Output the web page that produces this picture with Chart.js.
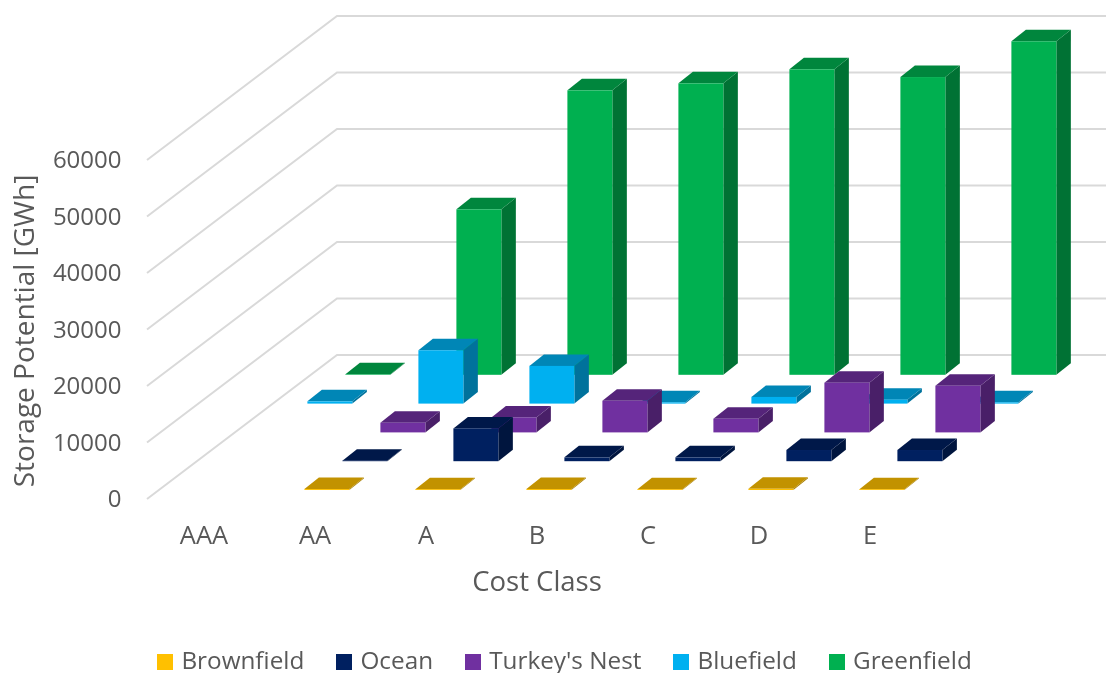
<!DOCTYPE html>
<html>
<head>
<meta charset="utf-8">
<style>
  html, body { margin: 0; padding: 0; background: #fff; overflow: hidden; }
  #wrap { position: relative; width: 1106px; height: 673px; }
</style>
<script src="https://cdn.jsdelivr.net/npm/chart.js@4/dist/chart.umd.min.js"></script>
</head>
<body>
<div id="wrap"><canvas id="storageChart"></canvas></div>
<script>
const costClasses = ['AAA', 'AA', 'A', 'B', 'C', 'D', 'E'];

// storage potential in GWh per cost class
const brownfield = [null, 170, 150, 170, 150, 210, 150];
const ocean      = [null, 100, 5800, 680, 680, 1980, 1980];
const turkeysNest = [null, 1710, 2650, 5600, 2420, 8790, 8260];
const bluefield  = [400, 9440, 6670, 230, 1180, 700, 230];
const greenfield = [100, 29290, 50350, 51590, 54070, 52700, 59030];

const TEXT_COLOR = '#595959';
const WALL_COLOR = '#d9d9d9';
const FONT_NAME  = '"Open Sans", sans-serif';

// floor depth in pixels, from the front edge to the back wall
const DEPTH_X = 190;
const DEPTH_Y = 144;
const WALL_SHIFT_Y = -1.5;
const ROW_STEP = 0.2;
const ROW_START = 0.0625;
const BAR_DEPTH_X = 14.5;
const BAR_DEPTH_Y = 11.5;

const AREA_TOP = 161.5;
const AREA_BOTTOM = 500.5;

function shade(hex, factor) {
    const n = parseInt(hex.slice(1), 16);
    const c = [n >> 16, (n >> 8) & 255, n & 255].map(v => Math.round(v * factor));
    return `rgb(${c[0]}, ${c[1]}, ${c[2]})`;
}

function swatch(color) {
    const c = document.createElement('canvas');
    c.width = 16;
    c.height = 16;
    const g = c.getContext('2d');
    g.fillStyle = color;
    g.fillRect(0, 0, 16, 16);
    return c;
}

function series(label, data, color) {
    return { label: label, data: data, backgroundColor: color, borderWidth: 0 };
}

// back wall and side wall gridlines
const wallPlugin = {
    id: 'walls',
    beforeDatasetsDraw(chart) {
        const { ctx, chartArea } = chart;
        const y = chart.scales.y;
        ctx.save();
        ctx.strokeStyle = WALL_COLOR;
        ctx.lineWidth = 2;
        y.ticks.forEach(t => {
            const py = y.getPixelForValue(t.value) + WALL_SHIFT_Y;
            ctx.beginPath();
            ctx.moveTo(chartArea.left - 1.5, py);
            ctx.lineTo(chartArea.left - 1.5 + DEPTH_X, py - DEPTH_Y);
            ctx.lineTo(chartArea.right + DEPTH_X, py - DEPTH_Y);
            ctx.stroke();
        });
        ctx.restore();
    }
};

// each series stands on its own row of the floor, drawn as a box
const boxPlugin = {
    id: 'boxes',
    beforeDatasetDraw(chart, args) {
        const { ctx } = chart;
        const meta = args.meta;
        const color = chart.data.datasets[args.index].backgroundColor;
        const f = ROW_START + ROW_STEP * args.index;
        const ox = f * DEPTH_X;
        const oy = WALL_SHIFT_Y - f * DEPTH_Y;
        const dx = BAR_DEPTH_X;
        const dy = BAR_DEPTH_Y;
        meta.data.forEach((bar, i) => {
            if (chart.data.datasets[args.index].data[i] === null) return;
            const { x, y, base, width } = bar.getProps(['x', 'y', 'base', 'width'], true);
            const l = x - width / 2 + ox;
            const r = x + width / 2 + ox;
            const t = y + oy;
            const b = base + oy;

            ctx.fillStyle = shade(color, 0.65);
            ctx.beginPath();
            ctx.moveTo(r, t);
            ctx.lineTo(r + dx, t - dy);
            ctx.lineTo(r + dx, b - dy);
            ctx.lineTo(r, b);
            ctx.closePath();
            ctx.fill();

            ctx.fillStyle = shade(color, 0.76);
            ctx.beginPath();
            ctx.moveTo(l, t);
            ctx.lineTo(l + dx, t - dy);
            ctx.lineTo(r + dx, t - dy);
            ctx.lineTo(r, t);
            ctx.closePath();
            ctx.fill();

            ctx.fillStyle = color;
            ctx.fillRect(l, t, r - l, b - t);
        });
        return false;
    }
};

// the legend sits right of the plot centre and close to the bottom edge
const legendPlugin = {
    id: 'legendPlace',
    afterLayout(chart) {
        const legend = chart.legend;
        legend.left += 103.75;
        legend.right += 103.75;
        legend.top = 673 - legend.height + 11;
        legend.bottom = legend.top + legend.height;
    }
};

new Chart(document.getElementById('storageChart'), {
    type: 'bar',
    data: {
        labels: costClasses,
        datasets: [
            series('Brownfield', brownfield, '#ffc000'),
            series('Ocean', ocean, '#002060'),
            series("Turkey's Nest", turkeysNest, '#7030a0'),
            series('Bluefield', bluefield, '#00b0f0'),
            series('Greenfield', greenfield, '#00b050')
        ]
    },
    plugins: [wallPlugin, boxPlugin, legendPlugin],
    options: {
        responsive: true,
        maintainAspectRatio: false,
        animation: false,
        layout: { padding: { top: AREA_TOP, right: 180.5, left: 0, bottom: 0 } },
        datasets: { bar: { grouped: false, barPercentage: 0.405, categoryPercentage: 1 } },
        plugins: {
            tooltip: { enabled: false },
            legend: {
                display: true,
                position: 'bottom',
                labels: {
                    usePointStyle: true,
                    pointStyleWidth: 8,
                    padding: 36,
                    color: TEXT_COLOR,
                    font: { family: FONT_NAME, size: 24.3 },
                    generateLabels(chart) {
                        return Chart.defaults.plugins.legend.labels.generateLabels(chart).map(item => {
                            item.pointStyle = swatch(chart.data.datasets[item.datasetIndex].backgroundColor);
                            return item;
                        });
                    }
                }
            }
        },
        scales: {
            x: {
                grid: { display: false },
                border: { display: false },
                ticks: {
                    color: TEXT_COLOR,
                    padding: 13,
                    maxRotation: 0,
                    font: { family: FONT_NAME, size: 25.5 }
                },
                title: {
                    display: true,
                    text: 'Cost Class',
                    color: TEXT_COLOR,
                    padding: { top: 4, bottom: 3 },
                    font: { family: FONT_NAME, size: 27.5 }
                },
                afterFit(scale) {
                    scale.height = 673 - AREA_BOTTOM - scale.chart.legend.height;
                }
            },
            y: {
                min: 0,
                max: 60000,
                grid: { display: false },
                border: { display: false },
                ticks: {
                    color: TEXT_COLOR,
                    stepSize: 10000,
                    padding: 19,
                    font: { family: FONT_NAME, size: 24 },
                    callback: v => String(v)
                },
                title: {
                    display: true,
                    text: 'Storage Potential [GWh]',
                    color: TEXT_COLOR,
                    padding: { top: 9, bottom: 0 },
                    font: { family: FONT_NAME, size: 28 }
                },
                afterFit(scale) {
                    scale.width = 148.5;
                }
            }
        }
    }
});
</script>
</body>
</html>
